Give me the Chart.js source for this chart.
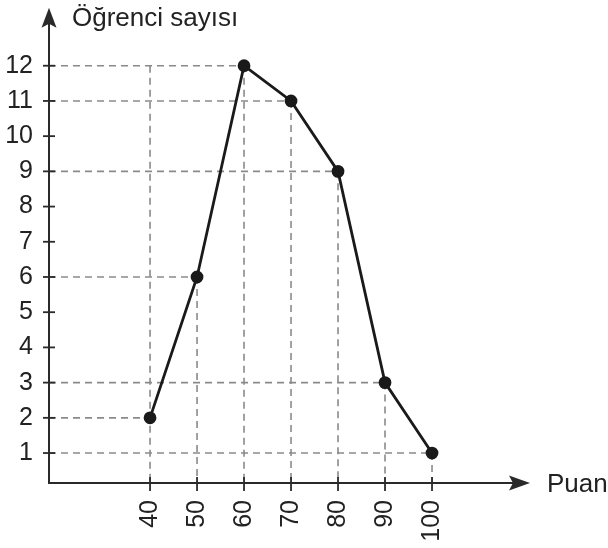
<!DOCTYPE html>
<html>
<head>
<meta charset="utf-8">
<script src="https://cdn.jsdelivr.net/npm/chart.js@4.4.0/dist/chart.umd.min.js"></script>
<style>
  html, body { margin: 0; padding: 0; background: #fff; }
  #wrap { width: 608px; height: 548px; }
</style>
</head>
<body>
<div id="wrap"><canvas id="myChart" width="608" height="548"></canvas></div>
<script>
const puan = [40, 50, 60, 70, 80, 90, 100];
const ogrenci = [2, 6, 12, 11, 9, 3, 1];
const yTicks = [1, 2, 3, 4, 5, 6, 7, 8, 9, 10, 11, 12];
const xTicks = [40, 50, 60, 70, 80, 90, 100];

const FONT = "'Liberation Sans', Arial, Helvetica, sans-serif";

// guides, axes with arrows, tick marks and the two axis titles
const axesPlugin = {
  id: 'axes',
  beforeDatasetsDraw(chart) {
    const { ctx, scales: { x, y } } = chart;
    const x0 = x.getPixelForValue(x.min);
    const y0 = y.getPixelForValue(y.min);
    const top = Math.max(...ogrenci);
    ctx.save();
    ctx.strokeStyle = '#8a8a8a';
    ctx.lineWidth = 1.6;
    ctx.setLineDash([7, 5]);
    puan.forEach((p, i) => {
      const px = x.getPixelForValue(p);
      const py = y.getPixelForValue(ogrenci[i]);
      ctx.beginPath();
      ctx.moveTo(x0, py);
      ctx.lineTo(px, py);
      ctx.stroke();
      // the first one runs up to the top level
      const vy = y.getPixelForValue(i === 0 ? top : ogrenci[i]);
      ctx.beginPath();
      ctx.moveTo(px, vy);
      ctx.lineTo(px, y0);
      ctx.stroke();
    });
    ctx.restore();
  },
  afterDatasetsDraw(chart) {
    const { ctx, chartArea, scales: { x, y } } = chart;
    const x0 = x.getPixelForValue(x.min);
    const y0 = y.getPixelForValue(y.min);
    ctx.save();
    ctx.strokeStyle = '#2a2a2a';
    ctx.fillStyle = '#2a2a2a';
    ctx.lineWidth = 2;
    ctx.beginPath();
    ctx.moveTo(x0, chartArea.top + 14);
    ctx.lineTo(x0, y0);
    ctx.lineTo(chartArea.right - 14, y0);
    ctx.stroke();
    // arrow heads
    ctx.beginPath();
    ctx.moveTo(x0, chartArea.top);
    ctx.lineTo(x0 - 7.5, chartArea.top + 20);
    ctx.lineTo(x0, chartArea.top + 16);
    ctx.lineTo(x0 + 7.5, chartArea.top + 20);
    ctx.closePath();
    ctx.fill();
    ctx.beginPath();
    ctx.moveTo(chartArea.right, y0);
    ctx.lineTo(chartArea.right - 21, y0 - 7.5);
    ctx.lineTo(chartArea.right - 17, y0);
    ctx.lineTo(chartArea.right - 21, y0 + 7.5);
    ctx.closePath();
    ctx.fill();
    // tick marks across the axes
    ctx.lineWidth = 1.8;
    yTicks.forEach(t => {
      const py = y.getPixelForValue(t);
      ctx.beginPath();
      ctx.moveTo(x0 - 6, py);
      ctx.lineTo(x0 + 6, py);
      ctx.stroke();
    });
    xTicks.forEach(t => {
      const px = x.getPixelForValue(t);
      ctx.beginPath();
      ctx.moveTo(px, y0 - 6);
      ctx.lineTo(px, y0 + 8);
      ctx.stroke();
    });
    ctx.fillStyle = '#222';
    ctx.font = '26px ' + FONT;
    ctx.textBaseline = 'middle';
    ctx.textAlign = 'left';
    ctx.fillText('Öğrenci sayısı', 72, 19);
    ctx.fillText('Puan', 547, y0 + 2);
    ctx.restore();
  }
};

new Chart(document.getElementById('myChart').getContext('2d'), {
  type: 'line',
  data: {
    datasets: [{
      label: 'Öğrenci sayısı',
      data: puan.map((p, i) => ({ x: p, y: ogrenci[i] })),
      borderColor: '#1a1a1a',
      backgroundColor: '#1a1a1a',
      borderWidth: 2.8,
      pointRadius: 5,
      pointHoverRadius: 5,
      tension: 0,
      clip: false
    }]
  },
  options: {
    responsive: false,
    animation: false,
    layout: { padding: { left: 0, right: 78, top: 7, bottom: 0 } },
    plugins: { legend: { display: false }, tooltip: { enabled: false } },
    scales: {
      x: {
        type: 'linear',
        min: 18.5,
        max: 120.85,
        afterFit(s) { s.height = 65; s.paddingLeft = 0; s.paddingRight = 0; },
        afterBuildTicks(s) { s.ticks = xTicks.map(v => ({ value: v })); },
        border: { display: false },
        grid: { display: false, drawTicks: false },
        ticks: {
          minRotation: 90,
          maxRotation: 90,
          autoSkip: false,
          padding: 17,
          color: '#222',
          font: { family: FONT, size: 25 }
        }
      },
      y: {
        type: 'linear',
        min: 0.149,
        max: 13.645,
        afterFit(s) { s.width = 49; s.paddingTop = 0; s.paddingBottom = 0; },
        afterBuildTicks(s) { s.ticks = yTicks.map(v => ({ value: v })); },
        border: { display: false },
        grid: { display: false, drawTicks: false },
        ticks: {
          autoSkip: false,
          padding: 16,
          color: '#222',
          font: { family: FONT, size: 25 }
        }
      }
    }
  },
  plugins: [axesPlugin]
});
</script>
</body>
</html>
